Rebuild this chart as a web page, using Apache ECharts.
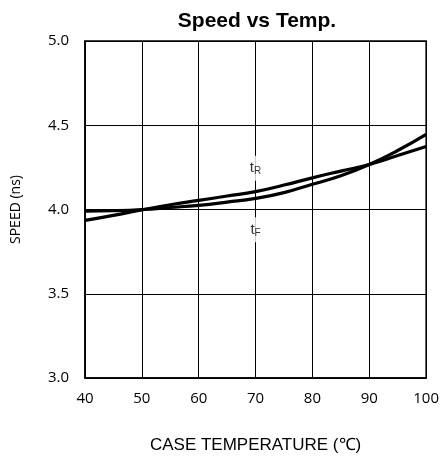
<!DOCTYPE html>
<html><head><meta charset="utf-8">
<script src="https://cdn.jsdelivr.net/npm/echarts@6/dist/echarts.min.js"></script>
<style>html,body{margin:0;padding:0;background:#fff}#c{width:442px;height:459px}</style>
</head><body><div id="c"></div>
<script>
const temps = [40, 45, 50, 55, 60, 65, 70, 75, 80, 85, 90, 95, 100];
const tR = [3.935, 3.965, 3.998, 4.028, 4.054, 4.080, 4.106, 4.145, 4.188, 4.228, 4.267, 4.320, 4.374];
const tF = [3.990, 3.993, 4.000, 4.012, 4.025, 4.044, 4.066, 4.100, 4.150, 4.200, 4.267, 4.350, 4.446];
const xTicks = [40, 50, 60, 70, 80, 90, 100];
const yTicks = [3.0, 3.5, 4.0, 4.5, 5.0];
const labelR = {x: 70, y: 4.245};
const labelF = {x: 70, y: 3.88};

const chart = echarts.init(document.getElementById('c'));
const lbl = (main, sub, pos) => ({
  type: 'scatter', symbolSize: 0, silent: true, z: 5,
  data: [[pos.x, pos.y]],
  label: {show: true, position: 'inside', formatter: '{a|' + main + '}{b|' + sub + '}',
    backgroundColor: '#fff', padding: [4, 1, 4, 1],
    rich: {a: {fontFamily: 'Liberation Sans', fontSize: 15, color: '#000'},
           b: {fontFamily: 'Liberation Sans', fontSize: 10, color: '#000', verticalAlign: 'bottom', padding: [7, 0, 0, 0]}}}
});
chart.setOption({
  animation: false,
  title: {text: 'Speed vs Temp.', left: 252, top: 6, textAlign: 'center',
    textStyle: {fontFamily: 'Liberation Sans', fontWeight: 'bold', fontSize: 21, color: '#000'}},
  grid: {left: 85, right: 14, top: 41, bottom: 75, show: true, borderColor: '#000', borderWidth: 1.5, backgroundColor: 'transparent'},
  xAxis: {type: 'value', min: xTicks[0], max: xTicks[xTicks.length-1], interval: 10,
    name: 'CASE TEMPERATURE (℃)', nameLocation: 'middle', nameGap: 59,
    nameTextStyle: {fontFamily: 'Liberation Sans', fontSize: 17, color: '#000'},
    axisLine: {show: true, lineStyle: {color: '#000', width: 1.5}}, axisTick: {show: false},
    axisLabel: {fontFamily: 'Open Sans', fontSize: 15, color: '#000', margin: 13},
    splitLine: {show: true, lineStyle: {color: '#000', width: 1}}},
  yAxis: {type: 'value', min: yTicks[0], max: yTicks[yTicks.length-1], interval: 0.5,
    name: 'SPEED (ns)', nameLocation: 'middle', nameGap: 62, nameRotate: 90,
    nameTextStyle: {fontFamily: 'Open Sans', fontSize: 14, color: '#000'},
    axisLine: {show: true, lineStyle: {color: '#000', width: 1.5}}, axisTick: {show: false},
    axisLabel: {fontFamily: 'Open Sans', fontSize: 15, color: '#000', margin: 16, formatter: v => v.toFixed(1)},
    splitLine: {show: true, lineStyle: {color: '#000', width: 1}}},
  series: [
    {type: 'line', name: 'tR', data: temps.map((t, i) => [t, tR[i]]), smooth: true, showSymbol: false,
      lineStyle: {color: '#000', width: 3.2}, z: 3},
    {type: 'line', name: 'tF', data: temps.map((t, i) => [t, tF[i]]), smooth: true, showSymbol: false,
      lineStyle: {color: '#000', width: 3.2}, z: 3},
    lbl('t', 'R', labelR),
    lbl('t', 'F', labelF)
  ]
});
</script></body></html>
